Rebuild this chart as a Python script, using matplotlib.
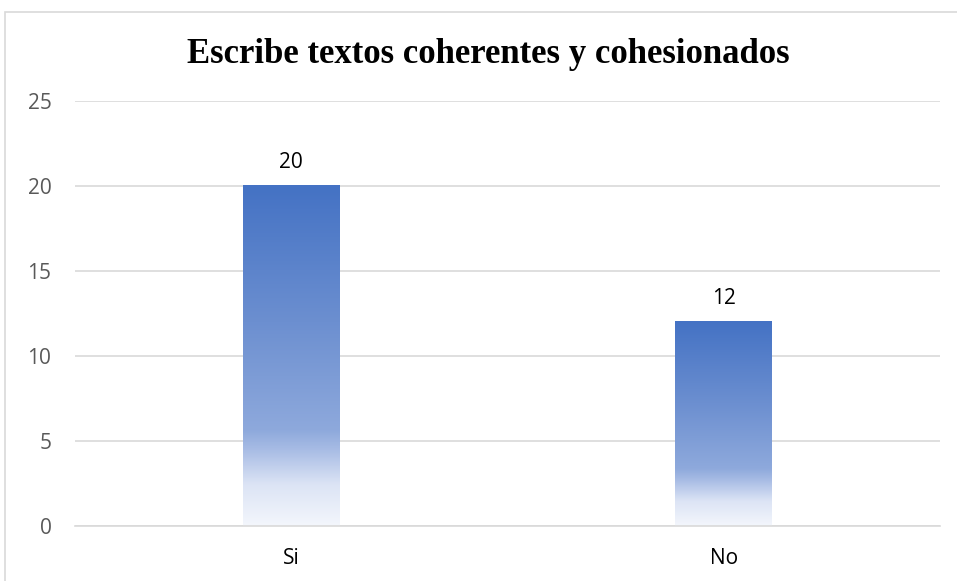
import numpy as np
import matplotlib.pyplot as plt
from matplotlib.colors import LinearSegmentedColormap
from matplotlib.patches import Rectangle

categories = ["Si", "No"]
values = [20, 12]
title = "Escribe textos coherentes y cohesionados"
yticks = [0, 5, 10, 15, 20, 25]

fig = plt.figure(figsize=(9.57, 5.81), dpi=100)
ax = fig.add_axes([0.0784, 0.0947, 0.9038, 0.7315])

# figure border (chart area is cropped on the right and bottom)
fig.patches.append(Rectangle((5 / 957, -0.1), 1.2, 1 - 12 / 581 + 0.1,
                             transform=fig.transFigure, fill=False,
                             edgecolor="#D9D9D9", linewidth=1.2))

# gradient: top dark blue, fading to almost white at the base
cmap = LinearSegmentedColormap.from_list(
    "grad", [(0.0, "#F3F6FC"), (0.12, "#DCE4F5"), (0.22, "#A9BDE5"),
             (0.28, "#8EA9DC"), (0.6, "#6C8FD0"), (1.0, "#4472C4")])
grad = np.linspace(0, 1, 256).reshape(-1, 1)

width = 0.224
x = np.arange(len(categories))
for xi, v in zip(x, values):
    ax.imshow(grad, extent=[xi - width / 2, xi + width / 2, 0, v],
              origin="lower", aspect="auto", cmap=cmap, zorder=2)
    ax.text(xi, v + 1.06, str(v), ha="center", va="baseline",
            fontsize=15, color="#000000", family="Open Sans")

ax.set_xlim(-0.5, 1.5)
ax.set_ylim(0, 25)
ax.set_yticks(yticks)
ax.set_xticks(x)
ax.set_xticklabels(categories)
ax.grid(axis="y", color="#D9D9D9", linewidth=1.2, zorder=0)
ax.set_axisbelow(True)
for s in ["top", "right", "left"]:
    ax.spines[s].set_visible(False)
ax.spines["bottom"].set_color("#D9D9D9")
ax.spines["bottom"].set_linewidth(1.2)
ax.tick_params(length=0, labelsize=15, colors="#595959")
ax.tick_params(axis="y", pad=17)
ax.tick_params(axis="x", pad=16)
for lab in ax.get_xticklabels() + ax.get_yticklabels():
    lab.set_family("Open Sans")
for lab in ax.get_xticklabels():
    lab.set_color("#000000")

fig.text(488 / 957, 1 - 63 / 581, title, ha="center", va="baseline",
         fontsize=25, fontweight="bold", family="Liberation Serif")

fig.savefig("out.png", dpi=100)
